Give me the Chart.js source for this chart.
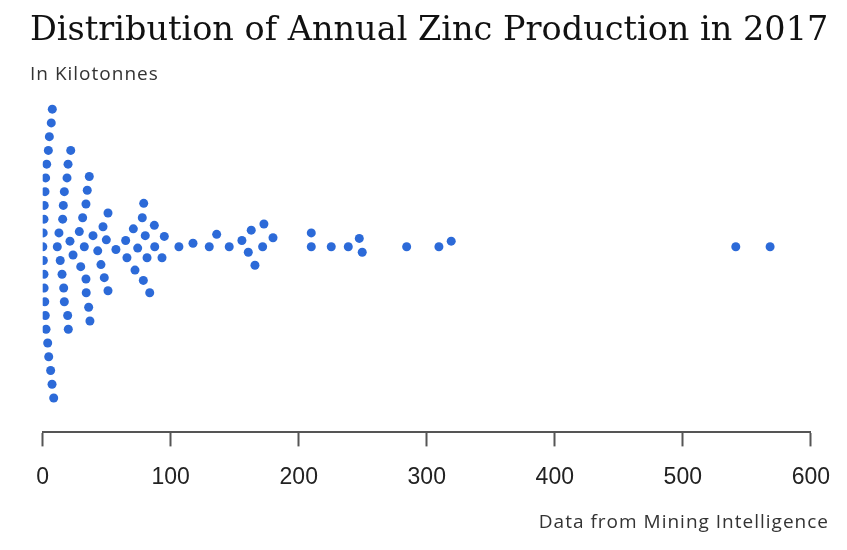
<!DOCTYPE html>
<html>
<head>
<meta charset="utf-8">
<script src="https://cdn.jsdelivr.net/npm/chart.js@4.4.1/dist/chart.umd.min.js"></script>
<style>
  body { margin: 0; background: #fff; }
  #wrap { position: relative; width: 847px; height: 550px; }
  #titulo { position: absolute; left: 30px; top: 9px; font-family: "DejaVu Serif", serif; font-size: 33.5px; color: #111; white-space: nowrap; }
  #subtitulo { position: absolute; left: 30px; top: 60px; font-family: "Open Sans", sans-serif; font-size: 19px; letter-spacing: 1px; color: #333; }
  #fuente { position: absolute; right: 18px; top: 508px; font-family: "Open Sans", sans-serif; font-size: 19px; letter-spacing: 1px; color: #333; }
</style>
</head>
<body>
<div id="wrap">
  <canvas id="grafica" width="847" height="550"></canvas>
  <div id="titulo">Distribution of Annual Zinc Production in 2017</div>
  <div id="subtitulo">In Kilotonnes</div>
  <div id="fuente">Data from Mining Intelligence</div>
</div>
<script>
// produccion anual (kt) y fila del enjambre
const production = [
  7.5, 6.7, 5.2, 4.4, 3.1, 2.3, 1.8, 1.2, 1.0, 0.4, 0.1, 0.5, 1.0, 1.1, 1.6, 2.0, 2.6, 3.9, 4.7, 6.2, 7.3, 8.6,
  21.9, 19.8, 19.0, 16.9, 16.1, 15.6, 12.7, 11.4, 13.7, 15.1, 16.4, 16.9, 19.5, 20.0,
  36.4, 34.8, 33.8, 31.2, 28.6, 21.3, 23.7, 32.5, 29.7, 33.8, 34.0, 35.9, 36.9,
  51.0, 47.1, 39.3, 49.7, 43.0, 45.5, 48.1, 51.0, 57.2, 64.8, 65.8, 70.8, 72.1, 74.2,
  78.9, 77.8, 80.1, 81.5, 78.6, 83.6, 87.2, 87.5, 93.2, 95.0, 106.4,
  117.4, 130.1, 135.9, 145.7, 155.6, 162.9, 160.6, 165.8, 172.8, 171.8, 179.9,
  209.8, 209.8, 225.4, 238.7, 247.3, 249.6, 284.3, 309.5, 319.1, 541.4, 568.2
];
const swarmRow = [
  10, 9, 8, 7, 6, 5, 4, 3, 2, 1, 0, -1, -2, -3, -4, -5, -6, -7, -8, -9, -10, -11,
  7, 6, 5, 4, 3, 2, 1, 0, -1, -2, -3, -4, -5, -6,
  5.1, 4.1, 3.1, 2.1, 1.1, 0.4, -0.6, 0, -1.45, -2.35, -3.35, -4.4, -5.4,
  2.45, 1.45, 0.8, 0.5, -0.3, -1.3, -2.25, -3.2, -0.2, 0.45, -0.8, 1.3, -1.7, -0.1,
  3.15, 2.1, 0.8, -0.8, -2.45, -3.35, 1.55, 0, -0.8, 0.75, 0,
  0.25, 0, 0.9, 0, 0.45, 1.2, -0.4, -1.35, 1.65, 0, 0.65,
  1, 0, 0, 0, 0.6, -0.4, 0, 0, 0.4, 0, 0
];
const xTicks = [0, 100, 200, 300, 400, 500, 600];

const puntos = production.map((v, i) => ({ x: v, y: swarmRow[i] }));

new Chart(document.getElementById("grafica"), {
  type: "scatter",
  data: {
    datasets: [{
      data: puntos,
      backgroundColor: "rgb(44,106,216)",
      borderWidth: 0,
      pointRadius: 4.5,
      pointHoverRadius: 4.5
    }]
  },
  options: {
    responsive: false,
    animation: false,
    layout: { padding: { left: 42.7, right: 36, top: 88.5, bottom: 42 } },
    plugins: { legend: { display: false }, tooltip: { enabled: false } },
    scales: {
      x: {
        type: "linear",
        min: 0,
        max: 600,
        afterBuildTicks: s => { s.ticks = xTicks.map(v => ({ value: v })); },
        ticks: { color: "#222", padding: 17, font: { family: "Liberation Sans", size: 23 } },
        grid: { drawOnChartArea: false, drawTicks: true, tickLength: 14, tickColor: "#555", tickWidth: 2 },
        border: { display: true, color: "#555", width: 2 }
      },
      y: { display: false, min: -13.5, max: 11.5 }
    }
  }
});
</script>
</body>
</html>
